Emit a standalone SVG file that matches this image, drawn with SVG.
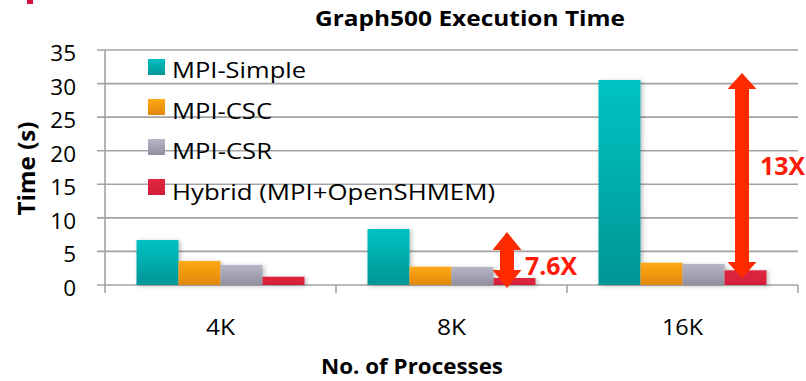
<svg xmlns="http://www.w3.org/2000/svg" width="806" height="381" viewBox="0 0 806 381">
<defs>
<linearGradient id="gTeal" x1="0" y1="0" x2="0" y2="1"><stop offset="0" stop-color="#00C2C2"/><stop offset="1" stop-color="#009595"/></linearGradient>
<linearGradient id="gOrange" x1="0" y1="0" x2="0" y2="1"><stop offset="0" stop-color="#FFA914"/><stop offset="1" stop-color="#E2860C"/></linearGradient>
<linearGradient id="gGray" x1="0" y1="0" x2="0" y2="1"><stop offset="0" stop-color="#B6B6C6"/><stop offset="1" stop-color="#8F8F9F"/></linearGradient>
<linearGradient id="gRed" x1="0" y1="0" x2="0" y2="1"><stop offset="0" stop-color="#E0253F"/><stop offset="1" stop-color="#D21E3A"/></linearGradient>
<filter id="sh" x="-20%" y="-20%" width="150%" height="150%"><feDropShadow dx="2" dy="1" stdDeviation="2" flood-color="#000" flood-opacity="0.25"/></filter>
</defs>
<style>
.grid{stroke:#A3A3A3;stroke-width:1.6;fill:none}
.tick{font-family:"Open Sans","Liberation Sans",Arial,sans-serif;font-size:22.5px;fill:#000;text-anchor:end}
.cat{font-family:"Open Sans","Liberation Sans",Arial,sans-serif;font-size:21.5px;fill:#000;text-anchor:middle}
.leg{font-family:"Open Sans","Liberation Sans",Arial,sans-serif;font-size:22.5px;fill:#000}
.ttl{font-family:"Open Sans","Liberation Sans",Arial,sans-serif;font-weight:bold;fill:#000}
.note{font-family:"Open Sans","Liberation Sans",Arial,sans-serif;font-weight:bold;font-size:25px;fill:#FF1A0A}
.arrow{fill:#FF2A00}
.teal{fill:url(#gTeal)}.orange{fill:url(#gOrange)}.gray{fill:url(#gGray)}.red{fill:url(#gRed)}
</style>
<rect width="806" height="381" fill="#fff"/>
<rect x="27" y="0" width="6" height="4" fill="#D3103F"/>
<text class="ttl" x="315" y="25.5" font-size="20.5" textLength="310" lengthAdjust="spacingAndGlyphs">Graph500 Execution Time</text>
<g id="axes">
<path class="grid" d="M97 50H798M97 83.6H798M97 117.1H798M97 150.7H798M97 184.3H798M97 217.9H798M97 251.4H798M97 285H798"/>
<path class="grid" d="M105 50V293M336 285V293M567 285V293M798 285V293"/>
<text class="tick" x="76" y="61">35</text>
<text class="tick" x="76" y="94.6">30</text>
<text class="tick" x="76" y="128.1">25</text>
<text class="tick" x="76" y="161.7">20</text>
<text class="tick" x="76" y="195.3">15</text>
<text class="tick" x="76" y="228.9">10</text>
<text class="tick" x="76" y="262.4">5</text>
<text class="tick" x="76" y="296">0</text>
<text class="cat" x="220.5" y="335" textLength="29" lengthAdjust="spacingAndGlyphs">4K</text>
<text class="cat" x="451.5" y="335" textLength="29" lengthAdjust="spacingAndGlyphs">8K</text>
<text class="cat" x="682.5" y="335" textLength="41" lengthAdjust="spacingAndGlyphs">16K</text>
<text class="ttl" x="321" y="373.5" font-size="21.5" textLength="182" lengthAdjust="spacingAndGlyphs">No. of Processes</text>
<text class="ttl" font-size="24" text-anchor="middle" textLength="94" lengthAdjust="spacingAndGlyphs" transform="translate(35,168.5) rotate(-90)">Time (s)</text>
</g>
<g id="legend">
<rect class="teal" x="148" y="59" width="17" height="16"/>
<text class="leg" x="172" y="78" textLength="134" lengthAdjust="spacingAndGlyphs">MPI-Simple</text>
<rect class="orange" x="148" y="99" width="17" height="16"/>
<text class="leg" x="172" y="118.5" textLength="100" lengthAdjust="spacingAndGlyphs">MPI-CSC</text>
<rect class="gray" x="148" y="139" width="17" height="16"/>
<text class="leg" x="172" y="159" textLength="100" lengthAdjust="spacingAndGlyphs">MPI-CSR</text>
<rect class="red" x="148" y="179" width="17" height="16"/>
<text class="leg" x="172" y="199.5" textLength="323" lengthAdjust="spacingAndGlyphs">Hybrid (MPI+OpenSHMEM)</text>
</g>
<g id="bars-4K" filter="url(#sh)">
<rect class="teal" x="136.5" y="240" width="42" height="45"/>
<rect class="orange" x="178.5" y="261" width="42" height="24"/>
<rect class="gray" x="220.5" y="265" width="42" height="20"/>
<rect class="red" x="262.5" y="276.7" width="42" height="8.3"/>
</g>
<g id="bars-8K" filter="url(#sh)">
<rect class="teal" x="367.5" y="229" width="42" height="56"/>
<rect class="orange" x="409.5" y="266.7" width="42" height="18.3"/>
<rect class="gray" x="451.5" y="267" width="42" height="18"/>
<rect class="red" x="493.5" y="278" width="42" height="7"/>
</g>
<g id="bars-16K" filter="url(#sh)">
<rect class="teal" x="598.5" y="80" width="42" height="205"/>
<rect class="orange" x="640.5" y="262.7" width="42" height="22.3"/>
<rect class="gray" x="682.5" y="264" width="42" height="21"/>
<rect class="red" x="724.5" y="270.3" width="42" height="14.7"/>
</g>
<g id="connectors">
<polygon class="arrow" points="507,232 521.5,250 514,250 514,270 521.5,270 507,288 492.5,270 500,270 500,250 492.5,250"/>
<polygon class="arrow" points="742,73 756.5,89 749,89 749,262 756.5,262 742,278 727.5,262 735,262 735,89 727.5,89"/>
</g>
<text class="note" x="525" y="274.5" textLength="52" lengthAdjust="spacingAndGlyphs">7.6X</text>
<text class="note" x="760" y="174.5" textLength="45" lengthAdjust="spacingAndGlyphs">13X</text>
</svg>
